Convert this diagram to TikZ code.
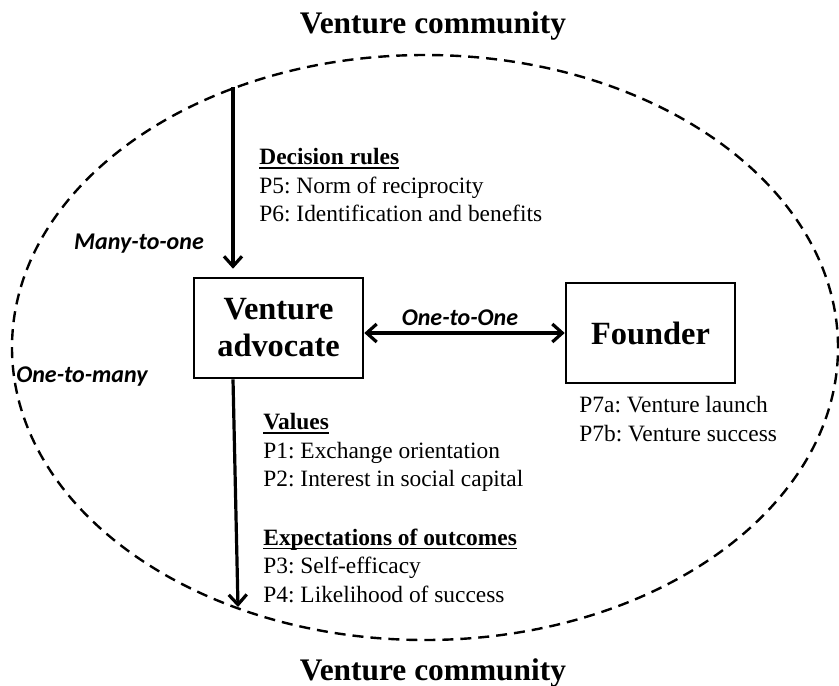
\documentclass[tikz,border=0pt]{standalone}
\usepackage{fontspec}
\setmainfont{Liberation Serif}
\newfontfamily\linkfont{Carlito}
\usetikzlibrary{arrows.meta}
\frenchspacing
% heading with a rule just under the baseline
\newcommand{\propheading}[1]{\setbox0=\hbox{\bfseries #1}\rlap{\rule[-2pt]{\wd0}{0.8pt}}\box0}
\tikzset{
    actorbox/.style={
        rectangle,
        draw, % 黑色边框
        line width=1.3pt, % 边框加粗
        minimum width=84.5pt,
        minimum height=50pt,
        inner sep=0,
        align=center,
        font=\fontsize{16.2}{18.5}\selectfont\bfseries
    },
    titletext/.style={
        anchor=base,
        inner sep=0,
        font=\fontsize{15.7}{18}\selectfont\bfseries
    },
    proptext/.style={
        anchor=north west,
        inner sep=0,
        align=left,
        font=\fontsize{11.7}{14.25}\selectfont
    },
    linklabel/.style={
        inner sep=0,
        font=\linkfont\fontsize{12}{14}\selectfont\bfseries\itshape
    },
    community/.style={
        line width=1.2pt,
        dash pattern=on 5.5pt off 3.5pt % 虚线边界
    },
    tie/.style={
        line width=1.6pt,
        -{Straight Barb[length=5pt,width=9pt]}
    }
}
\begin{document}
\begin{tikzpicture}[x=0.5pt, y=-0.5pt]
    \useasboundingbox (0,0) rectangle (839,685);
    \draw[community] (425,347.5) ellipse [x radius=206.5pt, y radius=146.25pt];

    \node[titletext] (topcomm) at (433,33) {Venture community};
    \node[titletext] (botcomm) at (433,680) {Venture community};

    \node[actorbox] (advocate) at (278.5,328) {Venture\\advocate};
    \node[actorbox] (founder) at (650.5,333) {Founder};

    \coordinate (inflow) at (233,87);
    \coordinate (outflow) at (238,607);
    \draw[tie, shorten >=4pt] (inflow) -- (inflow |- advocate.north);
    \draw[tie] (advocate.south -| inflow) -- (outflow);
    \draw[tie, {Straight Barb[length=5pt,width=9pt]}-{Straight Barb[length=5pt,width=9pt]}]
        (advocate.east |- founder.west) -- (founder.west);

    \node[linklabel] (manytoone) at (139,244) {Many-to-one};
    \node[linklabel] (onetomany) at (82,377) {One-to-many};
    \node[linklabel] (onetoone) at (460,318) {One-to-One};

    \node[proptext] (rules) at (259,148) {\propheading{Decision rules}\\
        P5: Norm of reciprocity\\
        P6: Identification and benefits};
    \node[proptext] (values) at (263,413) {\propheading{Values}\\
        P1: Exchange orientation\\
        P2: Interest in social capital\\[15pt]
        \propheading{Expectations of outcomes}\\
        P3: Self-efficacy\\
        P4: Likelihood of success};
    \node[proptext] (outcomes) at (579,396) {P7a: Venture launch\\
        P7b: Venture success};
\end{tikzpicture}
\end{document}
